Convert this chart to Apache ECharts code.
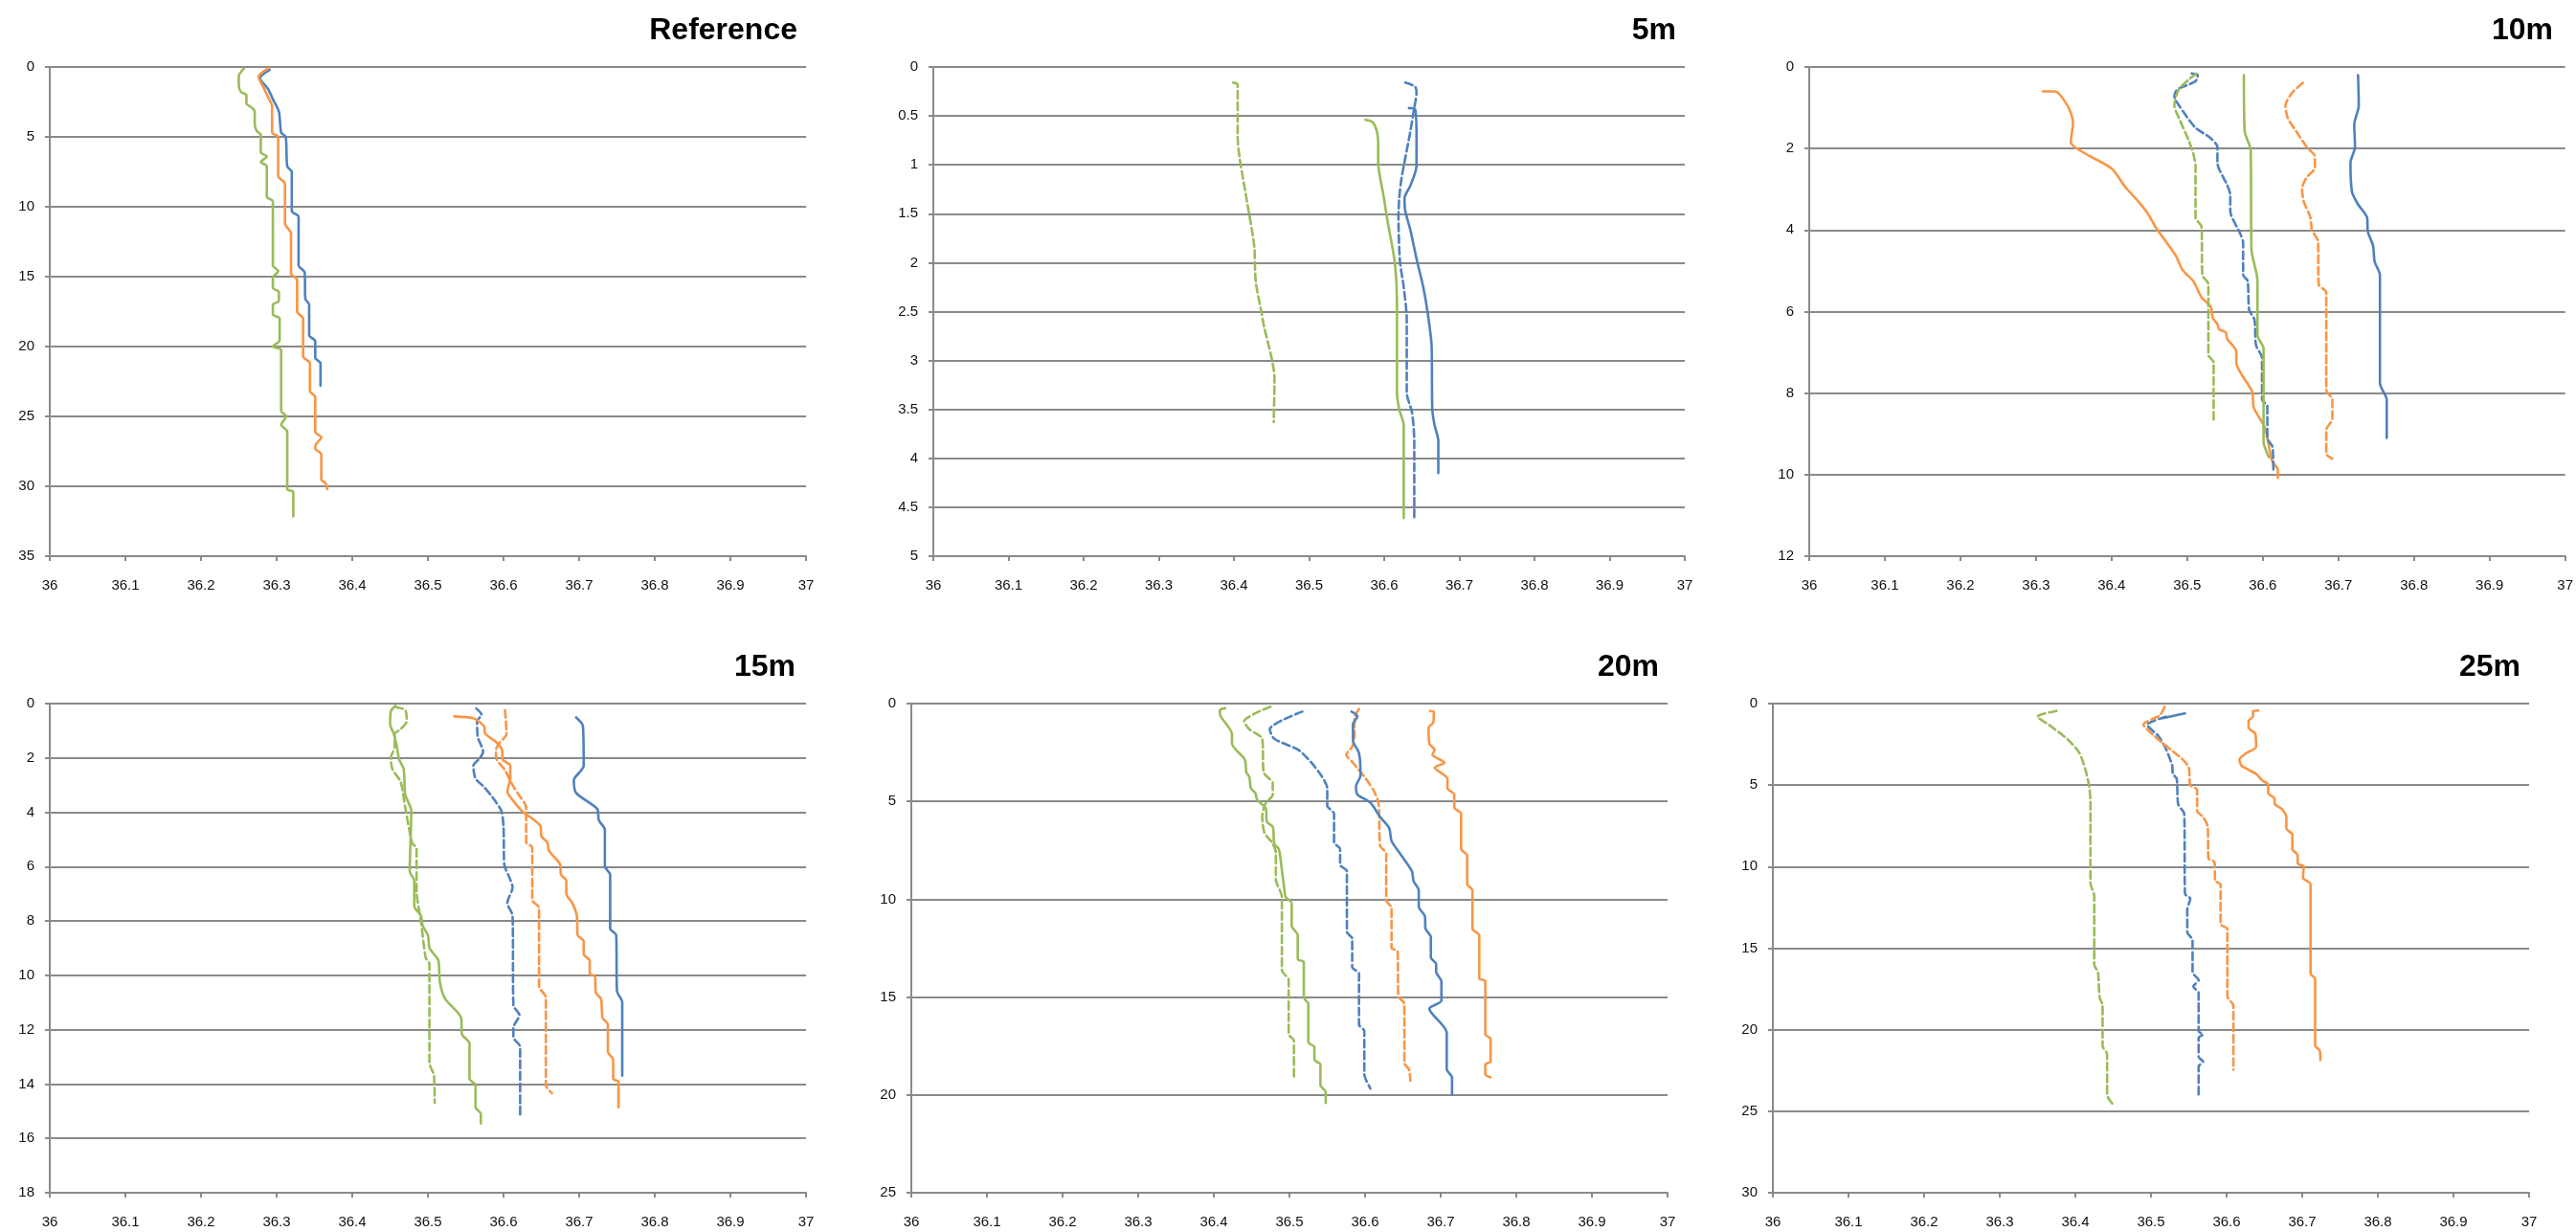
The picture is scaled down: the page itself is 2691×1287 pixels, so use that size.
<!DOCTYPE html>
<html>
<head>
<meta charset="utf-8">
<script src="https://cdn.jsdelivr.net/npm/echarts@6/dist/echarts.min.js"></script>
<style>
html,body{margin:0;padding:0;background:#fff;}
#chart{width:2691px;height:1287px;}
</style>
</head>
<body>
<div id="chart"></div>
<script>
// ---------- panel meta ----------
const panelTitles = ["Reference", "5m", "10m", "15m", "20m", "25m"];
const yMax = [35, 5, 12, 18, 25, 30];
const yInterval = [5, 0.5, 2, 2, 5, 5];
const xMin = 36, xMax = 37, xInterval = 0.1;

// ---------- data: [salinity, depth] ----------
// Reference
const ref_blue = [[36.291,0.2],[36.278,0.8],[36.289,1.6],[36.295,2.3],[36.303,3.2],[36.306,4.7],[36.312,5.0],[36.314,7.1],[36.320,7.5],[36.320,10.3],[36.329,10.7],[36.329,14.2],[36.337,14.7],[36.338,16.6],[36.343,17.0],[36.343,19.2],[36.351,19.6],[36.351,20.8],[36.358,21.2],[36.358,22.8]];
const ref_orange = [[36.289,0.1],[36.276,0.7],[36.283,1.5],[36.290,2.3],[36.294,2.8],[36.294,4.7],[36.302,5.0],[36.302,7.8],[36.311,8.35],[36.311,11.2],[36.319,11.9],[36.319,14.8],[36.327,15.2],[36.327,17.5],[36.335,18.0],[36.335,20.7],[36.344,21.2],[36.344,23.2],[36.351,23.6],[36.351,26.1],[36.359,26.5],[36.352,27.0],[36.351,27.3],[36.359,27.7],[36.359,29.5],[36.365,29.8],[36.367,30.2]];
const ref_green = [[36.257,0.1],[36.250,0.65],[36.250,1.3],[36.253,1.8],[36.260,2.0],[36.260,2.6],[36.267,2.9],[36.271,3.2],[36.271,4.1],[36.274,4.6],[36.279,4.85],[36.279,6.1],[36.287,6.4],[36.279,6.8],[36.287,7.1],[36.287,9.3],[36.295,9.6],[36.295,14.2],[36.302,14.6],[36.295,15.1],[36.295,15.8],[36.303,16.1],[36.303,16.75],[36.295,17.0],[36.295,17.7],[36.304,18.0],[36.304,19.55],[36.295,20.0],[36.306,20.25],[36.306,24.6],[36.3125,25.0],[36.306,25.6],[36.314,26.1],[36.314,30.2],[36.322,30.4],[36.322,32.15]];

// 5m
const m5_green_dash = [[36.399,0.16],[36.405,0.18],[36.405,0.72],[36.408,0.95],[36.418,1.4],[36.427,1.83],[36.429,2.19],[36.437,2.52],[36.440,2.65],[36.450,2.97],[36.454,3.17],[36.453,3.63]];
const m5_green = [[36.575,0.54],[36.584,0.56],[36.590,0.65],[36.592,0.78],[36.592,0.98],[36.599,1.31],[36.605,1.60],[36.614,1.99],[36.617,2.39],[36.617,3.33],[36.620,3.50],[36.626,3.66],[36.626,4.61]];
const m5_blue_dash = [[36.628,0.16],[36.641,0.2],[36.643,0.26],[36.639,0.46],[36.635,0.65],[36.623,1.14],[36.620,1.34],[36.619,1.54],[36.621,1.99],[36.626,2.25],[36.630,2.58],[36.630,3.33],[36.637,3.53],[36.640,3.82],[36.640,4.61]];
const m5_blue = [[36.633,0.42],[36.641,0.43],[36.643,0.72],[36.643,1.01],[36.635,1.21],[36.627,1.34],[36.628,1.47],[36.635,1.67],[36.643,1.96],[36.652,2.25],[36.658,2.52],[36.663,2.84],[36.664,3.50],[36.667,3.66],[36.672,3.82],[36.672,4.15]];

// 10m
const m10_orange = [[36.309,0.6],[36.325,0.6],[36.342,0.96],[36.349,1.36],[36.346,1.85],[36.362,2.09],[36.400,2.49],[36.418,2.94],[36.435,3.29],[36.447,3.57],[36.458,3.92],[36.473,4.31],[36.485,4.63],[36.494,4.98],[36.508,5.25],[36.519,5.65],[36.531,5.88],[36.534,6.16],[36.540,6.31],[36.542,6.43],[36.551,6.51],[36.553,6.67],[36.565,6.98],[36.565,7.25],[36.586,7.96],[36.588,8.35],[36.603,8.86],[36.612,9.65],[36.620,9.88],[36.620,10.08]];
const m10_orange_dash = [[36.653,0.39],[36.639,0.63],[36.630,0.94],[36.633,1.25],[36.644,1.57],[36.658,1.96],[36.669,2.20],[36.669,2.47],[36.658,2.71],[36.652,2.98],[36.654,3.29],[36.663,3.69],[36.665,4.0],[36.673,4.27],[36.674,5.33],[36.684,5.53],[36.684,7.92],[36.692,8.16],[36.692,8.63],[36.684,8.90],[36.684,9.49],[36.692,9.61]];
const m10_blue = [[36.726,0.2],[36.727,0.94],[36.721,1.41],[36.722,1.96],[36.716,2.35],[36.718,3.06],[36.726,3.37],[36.738,3.69],[36.739,4.04],[36.746,4.39],[36.748,4.78],[36.755,5.10],[36.755,7.76],[36.764,8.16],[36.764,9.10]];
const m10_blue_dash = [[36.506,0.16],[36.514,0.2],[36.511,0.35],[36.487,0.55],[36.483,0.71],[36.489,0.94],[36.511,1.49],[36.530,1.73],[36.540,1.96],[36.540,2.35],[36.553,2.90],[36.557,3.14],[36.557,3.53],[36.570,4.08],[36.574,4.31],[36.574,5.10],[36.580,5.25],[36.582,5.96],[36.589,6.20],[36.591,6.82],[36.599,7.14],[36.599,8.16],[36.606,8.31],[36.606,9.10],[36.613,9.33],[36.614,9.96]];
const m10_green_dash = [[36.512,0.16],[36.502,0.31],[36.489,0.55],[36.483,0.94],[36.489,1.25],[36.502,1.80],[36.508,2.12],[36.511,2.43],[36.511,3.69],[36.519,3.92],[36.520,5.10],[36.528,5.33],[36.528,7.06],[36.535,7.25],[36.535,8.67]];
const m10_green = [[36.575,0.2],[36.576,1.57],[36.584,2.04],[36.585,4.47],[36.593,5.25],[36.593,6.59],[36.601,6.90],[36.601,9.18],[36.608,9.57]];

// 15m
const m15_green = [[36.457,0.08],[36.451,0.29],[36.450,0.76],[36.455,1.12],[36.459,1.59],[36.462,2.06],[36.468,2.41],[36.470,3.35],[36.478,3.94],[36.476,6.17],[36.482,6.52],[36.482,7.46],[36.491,7.81],[36.493,8.17],[36.500,8.52],[36.502,8.99],[36.508,9.22],[36.514,9.46],[36.516,10.28],[36.523,10.87],[36.544,11.57],[36.545,12.16],[36.555,12.51],[36.555,13.81],[36.563,14.04],[36.563,14.86],[36.570,15.1],[36.570,15.45]];
const m15_green_dash = [[36.457,0.12],[36.470,0.24],[36.472,0.65],[36.464,0.94],[36.456,1.12],[36.456,1.59],[36.451,2.0],[36.453,2.41],[36.464,2.88],[36.470,3.82],[36.479,5.11],[36.485,5.35],[36.485,6.87],[36.491,8.05],[36.497,9.34],[36.502,9.58],[36.502,13.22],[36.508,13.69],[36.509,14.69]];
const m15_blue_dash = [[36.564,0.18],[36.571,0.41],[36.565,0.65],[36.566,1.23],[36.573,1.76],[36.569,2.0],[36.560,2.29],[36.563,2.76],[36.574,3.06],[36.586,3.47],[36.597,3.94],[36.600,4.52],[36.601,5.93],[36.607,6.35],[36.612,6.76],[36.605,7.34],[36.612,7.81],[36.613,11.10],[36.621,11.46],[36.613,11.93],[36.613,12.28],[36.622,12.63],[36.622,15.16]];
const m15_orange = [[36.535,0.47],[36.559,0.53],[36.567,0.65],[36.575,0.88],[36.575,1.06],[36.590,1.41],[36.598,1.70],[36.599,2.06],[36.609,2.29],[36.609,2.76],[36.605,3.23],[36.613,3.58],[36.626,4.0],[36.638,4.23],[36.649,4.52],[36.650,4.88],[36.658,5.11],[36.660,5.41],[36.675,5.93],[36.676,6.29],[36.683,6.52],[36.683,6.99],[36.691,7.34],[36.697,7.81],[36.698,8.52],[36.706,8.75],[36.706,9.22],[36.714,9.46],[36.714,9.93],[36.721,10.05],[36.722,10.63],[36.729,10.87],[36.731,11.57],[36.738,11.81],[36.738,12.81],[36.745,13.10],[36.745,13.81],[36.752,13.92],[36.752,14.86]];
const m15_orange_dash = [[36.602,0.24],[36.604,1.12],[36.594,1.47],[36.590,1.70],[36.591,2.06],[36.601,2.41],[36.612,3.0],[36.620,3.35],[36.630,3.82],[36.630,5.11],[36.638,5.29],[36.638,7.23],[36.647,7.52],[36.647,10.4],[36.656,10.81],[36.656,14.04],[36.664,14.34]];
const m15_blue = [[36.696,0.51],[36.705,0.82],[36.706,2.29],[36.693,2.82],[36.696,3.29],[36.724,3.88],[36.726,4.29],[36.734,4.64],[36.734,5.99],[36.741,6.29],[36.741,8.28],[36.749,8.52],[36.750,10.57],[36.757,10.99],[36.757,13.69]];

// 20m
const m20_green = [[36.415,0.24],[36.408,0.33],[36.409,0.65],[36.424,1.55],[36.424,2.04],[36.441,2.86],[36.443,3.51],[36.447,3.76],[36.449,4.33],[36.455,4.57],[36.457,4.90],[36.469,5.39],[36.470,6.04],[36.478,6.29],[36.480,7.18],[36.486,7.43],[36.491,8.82],[36.493,9.39],[36.495,9.88],[36.503,10.2],[36.503,11.35],[36.511,11.84],[36.511,13.06],[36.519,13.22],[36.519,15.02],[36.525,15.35],[36.525,17.31],[36.533,17.55],[36.533,18.2],[36.541,18.45],[36.541,19.51],[36.548,19.84],[36.548,20.41]];
const m20_green_dash = [[36.475,0.16],[36.455,0.49],[36.440,0.90],[36.447,1.31],[36.464,1.80],[36.466,3.51],[36.478,4.08],[36.478,4.65],[36.468,5.14],[36.464,5.80],[36.467,6.61],[36.477,7.10],[36.482,7.59],[36.482,8.98],[36.490,9.88],[36.490,13.63],[36.499,14.12],[36.499,16.90],[36.506,17.22],[36.506,19.10]];
const m20_blue_dash = [[36.517,0.41],[36.474,1.31],[36.480,1.80],[36.512,2.37],[36.529,3.02],[36.542,3.67],[36.550,4.33],[36.550,5.22],[36.559,5.63],[36.559,7.10],[36.567,7.43],[36.567,8.24],[36.576,8.57],[36.576,11.67],[36.583,12.0],[36.583,13.47],[36.592,13.80],[36.592,16.41],[36.599,16.73],[36.599,18.94],[36.607,19.67]];
const m20_orange_dash = [[36.592,0.28],[36.586,0.73],[36.586,1.71],[36.583,2.2],[36.575,2.61],[36.584,3.02],[36.601,3.84],[36.612,4.49],[36.618,5.14],[36.620,7.27],[36.628,7.67],[36.628,10.04],[36.635,10.45],[36.635,12.49],[36.643,12.65],[36.644,14.94],[36.652,15.35],[36.652,18.37],[36.658,18.69],[36.660,19.27]];
const m20_blue = [[36.582,0.41],[36.590,0.65],[36.584,1.06],[36.584,1.88],[36.592,2.53],[36.594,3.67],[36.588,4.24],[36.590,4.65],[36.607,5.06],[36.620,5.80],[36.632,6.37],[36.635,7.02],[36.648,7.76],[36.662,8.57],[36.664,9.06],[36.671,9.55],[36.671,10.37],[36.679,10.86],[36.680,11.51],[36.687,11.92],[36.687,12.98],[36.694,13.31],[36.694,13.71],[36.701,14.20],[36.701,15.18],[36.685,15.59],[36.708,16.82],[36.708,18.69],[36.715,19.10],[36.715,20.0]];
const m20_orange = [[36.686,0.38],[36.691,0.41],[36.690,0.98],[36.684,1.22],[36.685,2.04],[36.692,2.37],[36.689,2.61],[36.705,3.02],[36.692,3.27],[36.709,3.84],[36.709,4.33],[36.718,4.65],[36.718,5.31],[36.727,5.63],[36.727,7.43],[36.735,7.76],[36.735,9.22],[36.742,9.55],[36.742,11.51],[36.751,11.84],[36.751,14.04],[36.759,14.20],[36.759,16.90],[36.766,17.14],[36.766,18.29],[36.759,18.45],[36.759,18.94],[36.766,19.1]];

// 25m
const m25_green_dash = [[36.375,0.45],[36.350,0.8],[36.365,1.3],[36.390,2.2],[36.405,3.0],[36.413,4.0],[36.418,5.0],[36.420,6.0],[36.420,11.0],[36.425,11.8],[36.425,16.0],[36.430,16.5],[36.432,18.0],[36.436,18.5],[36.436,21.0],[36.442,21.5],[36.442,24.0],[36.450,24.6]];
const m25_blue = [[36.545,0.6],[36.530,0.75],[36.515,0.9]];
const m25_blue_dash = [[36.520,0.8],[36.495,1.3],[36.510,2.0],[36.520,2.8],[36.528,3.8],[36.529,4.31],[36.534,4.61],[36.536,6.18],[36.544,6.76],[36.545,11.67],[36.552,11.96],[36.548,12.65],[36.548,14.02],[36.555,14.51],[36.555,16.47],[36.563,16.96],[36.556,17.35],[36.563,17.75],[36.563,20.1],[36.569,20.29],[36.563,20.49],[36.563,21.67],[36.569,21.96],[36.563,22.25],[36.563,24.2]];
const m25_orange_dash = [[36.518,0.2],[36.512,0.7],[36.490,1.3],[36.500,1.8],[36.515,2.4],[36.529,2.94],[36.542,3.43],[36.550,3.92],[36.552,5.0],[36.561,5.29],[36.561,6.57],[36.569,6.96],[36.575,7.55],[36.576,9.51],[36.584,9.71],[36.585,10.88],[36.592,11.08],[36.592,13.53],[36.601,13.82],[36.601,17.94],[36.609,18.53],[36.609,22.45]];
const m25_orange = [[36.642,0.43],[36.635,0.45],[36.635,0.78],[36.629,1.08],[36.629,1.47],[36.638,1.86],[36.639,2.65],[36.626,3.04],[36.617,3.43],[36.620,3.82],[36.639,4.31],[36.647,4.71],[36.655,4.96],[36.655,5.49],[36.663,5.78],[36.664,6.18],[36.673,6.47],[36.679,6.96],[36.679,7.65],[36.687,8.04],[36.687,8.92],[36.694,9.31],[36.694,9.80],[36.702,10.0],[36.701,10.69],[36.711,11.08],[36.711,16.57],[36.717,16.86],[36.717,20.98],[36.723,21.27],[36.724,21.86]];

// ---------- styling ----------
const BLUE = '#4F81BD', ORANGE = '#F79646', GREEN = '#9BBB59';
const GRIDC = '#8a8a8a';
const FONT = "'Liberation Sans', Arial, sans-serif";

const grids = [
  {left:52,  top:70,  width:790, height:511},
  {left:975, top:70,  width:785, height:511},
  {left:1890,top:70,  width:790, height:511},
  {left:52,  top:735, width:790, height:511},
  {left:952, top:735, width:790, height:511},
  {left:1852,top:735, width:790, height:511}
];
const titlePos = [
  {right:1853, top:11}, {right:935, top:11}, {right:19, top:11},
  {right:1855, top:676}, {right:953, top:676}, {right:53, top:676}
];

const seriesDefs = [
  [0, BLUE, false, ref_blue], [0, ORANGE, false, ref_orange], [0, GREEN, false, ref_green],
  [1, GREEN, true, m5_green_dash], [1, GREEN, false, m5_green], [1, BLUE, true, m5_blue_dash], [1, BLUE, false, m5_blue],
  [2, ORANGE, false, m10_orange], [2, ORANGE, true, m10_orange_dash], [2, BLUE, false, m10_blue], [2, BLUE, true, m10_blue_dash], [2, GREEN, true, m10_green_dash], [2, GREEN, false, m10_green],
  [3, GREEN, false, m15_green], [3, GREEN, true, m15_green_dash], [3, BLUE, true, m15_blue_dash], [3, ORANGE, false, m15_orange], [3, ORANGE, true, m15_orange_dash], [3, BLUE, false, m15_blue],
  [4, GREEN, false, m20_green], [4, GREEN, true, m20_green_dash], [4, BLUE, true, m20_blue_dash], [4, ORANGE, true, m20_orange_dash], [4, BLUE, false, m20_blue], [4, ORANGE, false, m20_orange],
  [5, GREEN, true, m25_green_dash], [5, BLUE, true, m25_blue_dash], [5, BLUE, false, m25_blue], [5, ORANGE, true, m25_orange_dash], [5, ORANGE, false, m25_orange]
];

const fmt = v => String(Math.round(v * 10) / 10);

const option = {
  animation: false,
  backgroundColor: '#ffffff',
  title: panelTitles.map((t, i) => Object.assign({
    text: t,
    textStyle: {fontFamily: FONT, fontWeight: 'bold', fontSize: 32, color: '#000'}
  }, titlePos[i])),
  grid: grids,
  xAxis: grids.map((g, i) => ({
    gridIndex: i, type: 'value', min: xMin, max: xMax, interval: xInterval, position: 'bottom',
    axisLine: {show: true, onZero: false, lineStyle: {color: GRIDC, width: 2}},
    axisTick: {show: true, inside: false, length: 5, lineStyle: {color: GRIDC, width: 2}},
    axisLabel: {margin: 23, fontSize: 15, color: '#111', fontFamily: FONT, formatter: fmt},
    splitLine: {show: false}
  })),
  yAxis: grids.map((g, i) => ({
    gridIndex: i, type: 'value', inverse: true, min: 0, max: yMax[i], interval: yInterval[i],
    axisLine: {show: true, onZero: false, lineStyle: {color: GRIDC, width: 2}},
    axisTick: {show: true, inside: false, length: 5, lineStyle: {color: GRIDC, width: 2}},
    axisLabel: {margin: 16, fontSize: 15, color: '#111', fontFamily: FONT, formatter: fmt},
    splitLine: {show: true, lineStyle: {color: GRIDC, width: 2}}
  })),
  series: seriesDefs.map(([gi, color, dashed, data]) => ({
    type: 'line', xAxisIndex: gi, yAxisIndex: gi, data: data,
    symbol: 'none', smooth: 0.25, clip: false,
    lineStyle: {color: color, width: 2.6, type: dashed ? [8, 4] : 'solid', cap: 'round', join: 'round'}
  }))
};

const chart = echarts.init(document.getElementById('chart'), null, {renderer: 'canvas'});
chart.setOption(option);
</script>
</body>
</html>
